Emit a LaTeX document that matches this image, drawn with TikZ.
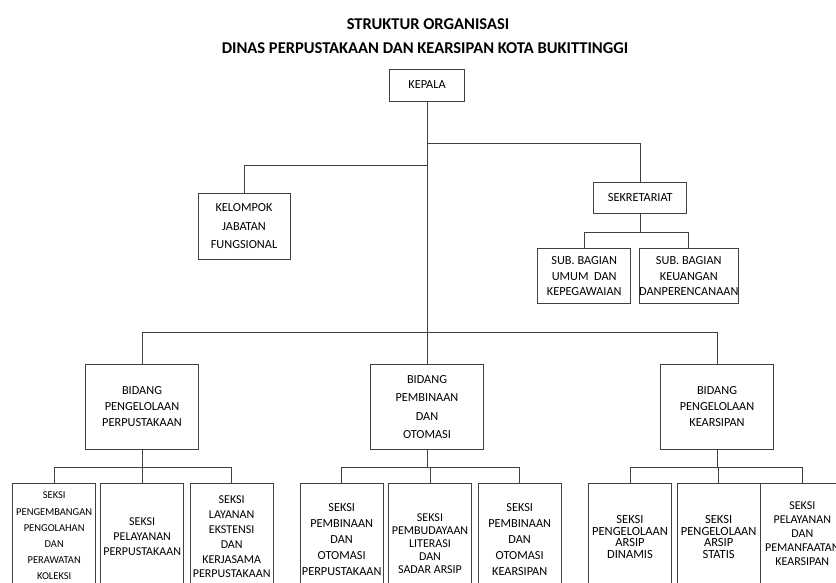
\documentclass[tikz,border=0pt]{standalone}
\usepackage{fontspec}
\setmainfont{Carlito}
\begin{document}
\begin{tikzpicture}[x=1pt,y=-1pt,
  unit/.style={draw=black!75, line width=.9pt, align=center, inner sep=0pt, font=\fontsize{12.3}{16}\selectfont},
  link/.style={draw=black!75, line width=.9pt},
  judul/.style={font=\fontsize{16.5}{20}\selectfont\bfseries, anchor=base, inner sep=0pt},
  bidang/.style={unit, minimum width=113pt, minimum height=85pt},
  seksi/.style={unit, minimum width=83pt, minimum height=114pt}]
\useasboundingbox (0,0) rectangle (836,583);
\clip (0,0) rectangle (836,583);

% judul
\node[judul] (judul1) at (428,29.3) {STRUKTUR ORGANISASI};
\node[judul] (judul2) at (425,53.3) {DINAS PERPUSTAKAAN DAN KEARSIPAN KOTA BUKITTINGGI};

% pimpinan dan sekretariat
\node[unit, minimum width=75pt, minimum height=32pt] (kepala) at (427,85) {KEPALA};
\node[unit, minimum width=92pt, minimum height=66pt, font=\fontsize{12.3}{18.7}\selectfont] (kelompok) at (244,226.3) {KELOMPOK\\JABATAN\\FUNGSIONAL};
\node[unit, minimum width=93pt, minimum height=31pt] (sekretariat) at (640.3,197.8) {SEKRETARIAT};
\node[unit, minimum width=93pt, minimum height=55pt, font=\fontsize{12.3}{15.3}\selectfont] (subumum) at (584.2,276.3) {SUB. BAGIAN\\UMUM\ \ DAN\\KEPEGAWAIAN};
\node[unit, minimum width=92pt, minimum height=55pt, font=\fontsize{12.3}{15.3}\selectfont] (subkeuangan) at (688.8,276.3) {SUB. BAGIAN\\KEUANGAN\\DANPERENCANAAN};

% bidang
\node[bidang] (bidang1) at (142,406.8) {BIDANG\\PENGELOLAAN\\PERPUSTAKAAN};
\node[bidang, font=\fontsize{12.3}{18.5}\selectfont] (bidang2) at (427,406.8) {BIDANG\\PEMBINAAN\\DAN\\OTOMASI};
\node[bidang] (bidang3) at (717,406.8) {BIDANG\\PENGELOLAAN\\KEARSIPAN};

% seksi
\node[seksi, minimum height=106pt, font=\fontsize{10.5}{16.2}\selectfont] (seksi1a) at (54.2,536) {SEKSI\\PENGEMBANGAN\\PENGOLAHAN\\DAN\\PERAWATAN\\KOLEKSI};
\node[seksi, minimum height=108pt, font=\fontsize{12}{15}\selectfont] (seksi1b) at (142.2,537) {SEKSI\\PELAYANAN\\PERPUSTAKAAN};
\node[seksi, minimum height=108pt, font=\fontsize{12}{14.8}\selectfont] (seksi1c) at (231.7,537) {SEKSI\\LAYANAN\\EKSTENSI\\DAN\\KERJASAMA\\PERPUSTAKAAN};
\node[seksi] (seksi2a) at (341.7,540) {SEKSI\\PEMBINAAN\\DAN\\OTOMASI\\PERPUSTAKAAN};
\node[seksi, minimum height=122pt, font=\fontsize{12}{13}\selectfont] (seksi2b) at (430,544) {SEKSI\\PEMBUDAYAAN\\LITERASI\\DAN\\SADAR ARSIP};
\node[seksi] (seksi2c) at (519.7,540) {SEKSI\\PEMBINAAN\\DAN\\OTOMASI\\KEARSIPAN};
\node[seksi, minimum height=108pt, font=\fontsize{12.5}{11.5}\selectfont] (seksi3a) at (630,537) {SEKSI\\PENGELOLAAN\\ARSIP\\DINAMIS};
\node[seksi, minimum height=108pt, font=\fontsize{12.5}{11.5}\selectfont] (seksi3b) at (718.7,537) {SEKSI\\PENGELOLAAN\\ARSIP\\STATIS};
\node[seksi, minimum height=102pt, font=\fontsize{12}{14}\selectfont] (seksi3c) at (802.3,534) {SEKSI\\PELAYANAN\\DAN\\PEMANFAATAN\\KEARSIPAN};

% garis komando
\draw[link] (kepala.south) -- (bidang2.north);
\draw[link] (kepala.south) ++(0,42.3) -| (sekretariat.north);
\draw[link] (kepala.south) ++(0,64) -| (kelompok.north);
\draw[link] (kepala.south) ++(0,231.3) -| (bidang1.north);
\draw[link] (kepala.south) ++(0,231.3) -| (bidang3.north);
\draw[link] (sekretariat.south) -- ++(0,18.4) coordinate (cabsek);
\draw[link] (cabsek) -| (subumum.north);
\draw[link] (cabsek) -| (subkeuangan.north);
\foreach \b in {1,2,3}
{
    \draw[link] (bidang\b.south) -- ++(0,18) coordinate (cab\b);
    \foreach \s in {a,b,c}
        \draw[link] (cab\b) -| (seksi\b\s.north);
}

\end{tikzpicture}
\end{document}
